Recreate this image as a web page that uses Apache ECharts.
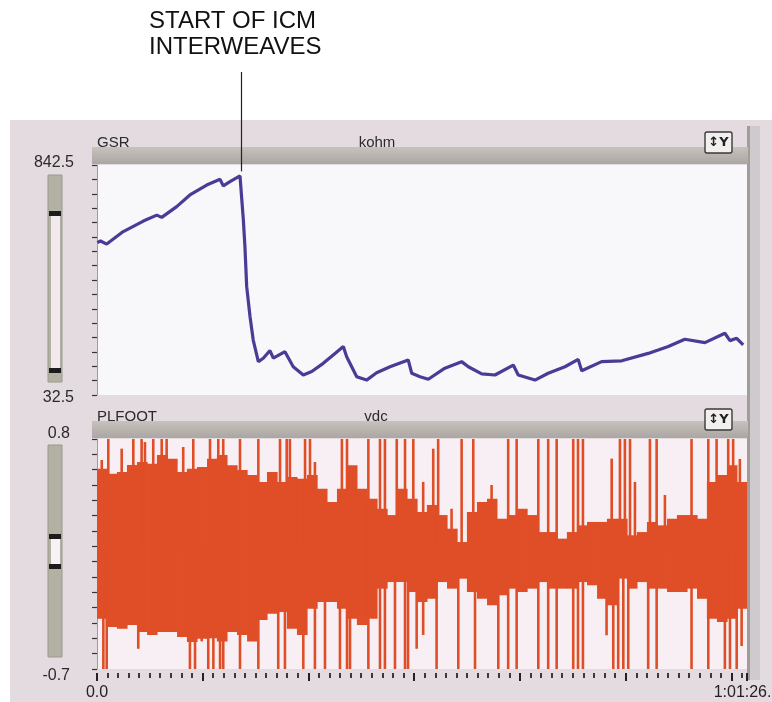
<!DOCTYPE html>
<html><head><meta charset="utf-8">
<script src="https://cdn.jsdelivr.net/npm/echarts@6/dist/echarts.min.js"></script>
<style>html,body{margin:0;padding:0;background:#fff}#c{width:772px;height:702px}</style>
</head><body><div id="c"></div>
<script>
// ---------------- DATA ----------------
const timeRange = [0, 3686.5];                 // seconds, 0.0 .. 1:01:26.5
const timeLabels = ['0.0', '1:01:26.5'];
const timeMajorStep = 600;                     // 10 min
const timeMinorStep = 60;                      // 1 min
const gsrRange = [32.5, 842.5];
const gsrTickLabels = ['32.5', '842.5'];
const footRange = [-0.7, 0.8];
const footTickLabels = ['-0.7', '0.8'];
const channelNames = ['GSR', 'PLFOOT'];
const channelUnits = ['kohm', 'vdc'];
const annotationText = ['START OF ICM', 'INTERWEAVES'];
const annotationTime = 816;
const annotationValue = 806;

// GSR trace (kohm)
const gsrTime = [2, 20, 55, 149, 263, 339, 367, 452, 527, 622, 698, 716, 754, 811, 816, 830, 839, 849, 868, 886, 915, 943, 981, 1000, 1066, 1113, 1170, 1218, 1283, 1350, 1397, 1416, 1473, 1529, 1586, 1662, 1765, 1785, 1832, 1879, 1973, 2068, 2106, 2182, 2257, 2361, 2389, 2484, 2559, 2654, 2729, 2749, 2862, 2976, 3126, 3240, 3334, 3448, 3561, 3590, 3628, 3665];
const gsrValue = [569, 575, 564, 608, 645, 666, 658, 696, 737, 772, 792, 769, 784, 804, 806, 649, 555, 414, 308, 226, 150, 162, 189, 162, 185, 132, 103, 115, 144, 179, 203, 167, 97, 85, 111, 132, 156, 109, 97, 88, 127, 150, 132, 107, 103, 138, 103, 85, 109, 132, 158, 118, 150, 153, 179, 203, 229, 217, 250, 224, 232, 209];

// PLFOOT signal envelope (vdc): bin edges, body high / low per bin
const footBinEdge = [0, 57, 113, 170, 227, 284, 340, 397, 454, 510, 567, 624, 680, 737, 794, 851, 907, 964, 1021, 1077, 1134, 1191, 1248, 1304, 1361, 1418, 1474, 1531, 1588, 1645, 1701, 1758, 1815, 1871, 1928, 1985, 2042, 2098, 2155, 2212, 2268, 2325, 2382, 2439, 2495, 2552, 2609, 2665, 2722, 2779, 2836, 2892, 2949, 3006, 3062, 3119, 3176, 3233, 3289, 3346, 3403, 3459, 3516, 3573, 3629, 3686.5];
const footHigh = [0.606, 0.574, 0.585, 0.630, 0.650, 0.639, 0.696, 0.672, 0.585, 0.606,
  0.617, 0.672, 0.696, 0.628, 0.598, 0.565, 0.520, 0.585, 0.520, 0.552,
  0.541, 0.565, 0.476, 0.389, 0.476, 0.628, 0.476, 0.411, 0.345, 0.304,
  0.476, 0.411, 0.324, 0.370, 0.304, 0.215, 0.128, 0.324, 0.389, 0.411,
  0.280, 0.304, 0.345, 0.304, 0.193, 0.193, 0.150, 0.193, 0.237, 0.259,
  0.259, 0.280, 0.280, 0.172, 0.193, 0.259, 0.237, 0.280, 0.304, 0.304,
  0.280, 0.520, 0.565, 0.628, 0.520];
const footLow = [-0.372, -0.426, -0.437, -0.413, -0.459, -0.478, -0.459, -0.459, -0.491, -0.524,
  -0.502, -0.500, -0.520, -0.459, -0.478, -0.520, -0.380, -0.339, -0.328, -0.437,
  -0.478, -0.307, -0.263, -0.263, -0.307, -0.372, -0.413, -0.372, -0.176, -0.133,
  -0.133, -0.198, -0.263, -0.242, -0.133, -0.176, -0.111, -0.198, -0.242, -0.285,
  -0.219, -0.176, -0.198, -0.176, -0.133, -0.176, -0.176, -0.176, -0.133, -0.154,
  -0.242, -0.285, -0.111, -0.176, -0.133, -0.176, -0.176, -0.198, -0.198, -0.176,
  -0.242, -0.372, -0.394, -0.372, -0.307];

// PLFOOT spikes (vdc)
const spikeTime = [27, 36, 55, 64, 140, 206, 234, 253, 272, 319, 367, 395, 489, 527, 546, 556, 594, 631, 641, 660, 688, 698, 716, 811, 915, 1028, 1038, 1066, 1076, 1094, 1170, 1180, 1208, 1236, 1293, 1378, 1389, 1418, 1435, 1539, 1605, 1633, 1690, 1700, 1747, 1764, 1794, 1813, 1850, 1907, 1926, 1935, 2011, 2049, 2068, 2134, 2144, 2238, 2276, 2332, 2380, 2503, 2559, 2607, 2701, 2728, 2756, 2890, 2919, 2928, 2956, 2966, 2985, 2994, 3013, 3023, 3051, 3126, 3136, 3174, 3221, 3372, 3467, 3514, 3561, 3580, 3590, 3608, 3628, 3646, 3656];
const spikeHigh = [0.663, 0.1, 0.1, 0.8, 0.737, 0.8, 0.1, 0.8, 0.78, 0.8, 0.8, 0.8, 0.748, 0.1, 0.8, 0.1, 0.1, 0.1, 0.8, 0.1, 0.8, 0.1, 0.8, 0.8, 0.8, 0.1, 0.8, 0.1, 0.8, 0.8, 0.1, 0.8, 0.8, 0.65, 0.1, 0.1, 0.8, 0.8, 0.1, 0.8, 0.8, 0.8, 0.1, 0.8, 0.8, 0.1, 0.8, 0.1, 0.52, 0.737, 0.1, 0.8, 0.345, 0.1, 0.8, 0.8, 0.1, 0.5, 0.1, 0.8, 0.8, 0.8, 0.8, 0.8, 0.8, 0.8, 0.8, 0.1, 0.672, 0.1, 0.1, 0.8, 0.1, 0.8, 0.1, 0.8, 0.52, 0.1, 0.8, 0.8, 0.435, 0.8, 0.8, 0.8, 0.1, 0.8, 0.1, 0.8, 0.1, 0.67, 0.1];
const spikeLow = [0.1, -0.7, -0.7, 0.1, 0.1, 0.1, -0.568, 0.1, 0.1, 0.1, 0.1, 0.1, 0.1, -0.7, 0.1, -0.7, -0.52, -0.7, 0.1, -0.7, 0.1, -0.7, -0.7, -0.7, -0.7, -0.7, 0.1, -0.7, 0.1, 0.1, -0.7, 0.1, 0.1, -0.7, -0.7, -0.7, 0.1, -0.7, -0.7, -0.7, -0.7, -0.7, -0.7, 0.1, -0.7, -0.7, 0.1, -0.568, -0.478, 0.1, -0.7, 0.1, 0.1, -0.7, 0.1, 0.1, -0.7, 0.1, -0.7, -0.7, -0.7, -0.7, -0.7, -0.7, -0.7, -0.7, -0.7, -0.48, 0.1, -0.7, -0.7, 0.1, -0.7, 0.1, -0.7, 0.1, 0.1, -0.7, 0.1, -0.7, 0.1, -0.7, -0.7, 0.1, -0.7, 0.1, -0.7, 0.1, -0.7, 0.1, -0.55];

// ---------------- CHART ----------------
const FONT = '"Liberation Sans", Arial, Helvetica, sans-serif';
const ORANGE = '#df4e27';
const chart = echarts.init(document.getElementById('c'), null, {renderer: 'canvas'});

const gsrData = gsrTime.map((t, i) => [t, gsrValue[i]]);
const bodyData = footHigh.map((h, i) => [footBinEdge[i], footBinEdge[i + 1], h, footLow[i]]);
const spikeData = spikeTime.map((t, i) => [t, spikeHigh[i], spikeLow[i]]);
const near = (a, b) => Math.abs(a - b) < 1e-6;

// time-axis tick positions (1-minute minor, 10-minute major, plus the end of the record)
const timeTicks = [];
for (let t = timeRange[0]; t < timeRange[1]; t += timeMinorStep) {
  timeTicks.push([t, t % timeMajorStep === 0 ? 1 : 0]);
}
timeTicks.push([timeRange[1], 1]);

const grids = [
  {left: 97, top: 165, width: 650, height: 230, outerBoundsMode: 'none', containLabel: false},
  {left: 97, top: 439, width: 650, height: 230, outerBoundsMode: 'none', containLabel: false}
];

function bandGraphics(id, y) {
  return [{
    type: 'rect', id: id, z: -5, shape: {x: 92, y: y, width: 656, height: 17},
    style: {fill: new echarts.graphic.LinearGradient(0, 0, 0, 1, [
      {offset: 0, color: '#c8c2be'}, {offset: 1, color: '#aca6a2'}])}
  }];
}
function button(id, y) {
  return [
    {type: 'rect', id: id + 'b', z: 5, shape: {x: 705, y: y, width: 27, height: 21, r: 2},
      style: {fill: '#f2f0ee', stroke: '#3a3a3a', lineWidth: 1.4}},
    {type: 'text', id: id + 't', z: 6, x: 718.5, y: y + 11,
      style: {text: '↕Y', font: 'bold 13px "DejaVu Sans", sans-serif', fill: '#222',
        align: 'center', verticalAlign: 'middle'}}
  ];
}
function slider(id, y0, y1, h1, h2, midFill) {
  return [
    {type: 'rect', id: id + 'o', z: -5, shape: {x: 48, y: y0, width: 14, height: y1 - y0},
      style: {fill: '#b3b0a4', stroke: '#9c998e', lineWidth: 1}},
    {type: 'rect', id: id + 'm', z: -4, shape: {x: 51, y: h1, width: 9, height: h2 - h1},
      style: {fill: midFill}},
    {type: 'rect', id: id + 'h1', z: -3, shape: {x: 49, y: h1 - 3, width: 12, height: 5},
      style: {fill: '#1c1c1c'}},
    {type: 'rect', id: id + 'h2', z: -3, shape: {x: 49, y: h2 - 2, width: 12, height: 5},
      style: {fill: '#1c1c1c'}}
  ];
}
function txt(id, x, y, text, align, size) {
  return {type: 'text', id: id, z: 5, x: x, y: y,
    style: {text: text, font: size + 'px ' + FONT, fill: '#2a2a2a', align: align, verticalAlign: 'middle'}};
}

const graphics = [
  {type: 'rect', id: 'panel', z: -20, shape: {x: 10, y: 120, width: 762, height: 582}, style: {fill: '#e4dbe0'}},
  {type: 'rect', id: 'bg1', z: -10, shape: {x: 97, y: 165, width: 650, height: 230}, style: {fill: '#f8f7f9'}},
  {type: 'rect', id: 'bg2', z: -10, shape: {x: 97, y: 439, width: 650, height: 230}, style: {fill: '#f7eff3'}},
  {type: 'rect', id: 'shadow', z: -9, shape: {x: 747, y: 126, width: 3, height: 554}, style: {fill: '#a29c9a'}},
  {type: 'rect', id: 'strip', z: -9, shape: {x: 750, y: 126, width: 10, height: 554}, style: {fill: '#cfcacb'}},
  ...bandGraphics('band1', 147),
  ...bandGraphics('band2', 421),
  txt('n1', 97, 143, channelNames[0], 'left', 15),
  txt('u1', 377, 143, channelUnits[0], 'center', 15),
  txt('n2', 97, 417, channelNames[1], 'left', 15),
  txt('u2', 376, 417, channelUnits[1], 'center', 15),
  ...button('btn1', 132),
  ...button('btn2', 409),
  ...slider('s1', 175, 382, 214, 370, '#f1e9ec'),
  ...slider('s2', 445, 657, 537, 566, '#f7f3f4'),
  {type: 'text', id: 'ann', z: 10, x: 149, y: 8,
    style: {text: annotationText.join('\n'), font: '24px ' + FONT, fill: '#111', lineHeight: 26,
      align: 'left', verticalAlign: 'top'}},
  {type: 'line', id: 'annLine', z: 10, shape: {x1: 0, y1: 72, x2: 0, y2: 170},
    style: {stroke: '#222', lineWidth: 1.2}}
];

const option = {
  animation: false,
  backgroundColor: '#ffffff',
  grid: grids,
  xAxis: [
    {gridIndex: 0, type: 'value', min: timeRange[0], max: timeRange[1], show: false, splitLine: {show: false}},
    {gridIndex: 1, type: 'value', position: 'bottom', offset: 4, min: timeRange[0], max: timeRange[1], interval: timeMajorStep,
      axisLine: {show: false}, splitLine: {show: false}, axisTick: {show: false},
      axisLabel: {show: true, interval: 0, showMinLabel: true, showMaxLabel: true, hideOverlap: false,
        margin: 12, color: '#222', fontSize: 16, fontFamily: FONT,
        formatter: v => near(v, timeRange[0]) ? timeLabels[0] : (near(v, timeRange[1]) ? timeLabels[1] : '')}}
  ],
  yAxis: [
    {gridIndex: 0, type: 'value', min: gsrRange[0], max: gsrRange[1], interval: 50.625, offset: 3,
      splitLine: {show: false},
      axisLine: {show: true, lineStyle: {color: '#a09a9c', width: 1}},
      axisTick: {show: true, interval: 0, length: 5, lineStyle: {color: '#333', width: 1.2}},
      axisLabel: {show: true, interval: 0, showMinLabel: true, showMaxLabel: true, hideOverlap: false, margin: 20,
        formatter: v => near(v, gsrRange[1]) ? '{a|' + gsrTickLabels[1] + '}' : (near(v, gsrRange[0]) ? '{b|' + gsrTickLabels[0] + '}' : ''),
        rich: {
          a: {fontSize: 16, fontFamily: FONT, color: '#2a2a2a', padding: [0, 0, 4, 0]},
          b: {fontSize: 16, fontFamily: FONT, color: '#2a2a2a', padding: [6, 0, 0, 0]}
        }}},
    {gridIndex: 1, type: 'value', min: footRange[0], max: footRange[1], interval: 0.1, offset: 3,
      splitLine: {show: false},
      axisLine: {show: true, lineStyle: {color: '#a09a9c', width: 1}},
      axisTick: {show: true, interval: 0, length: 5, lineStyle: {color: '#333', width: 1.2}},
      axisLabel: {show: true, interval: 0, showMinLabel: true, showMaxLabel: true, hideOverlap: false, margin: 24,
        formatter: v => near(v, footRange[1]) ? '{a|' + footTickLabels[1] + '}' : (near(v, footRange[0]) ? '{b|' + footTickLabels[0] + '}' : ''),
        rich: {
          a: {fontSize: 16, fontFamily: FONT, color: '#2a2a2a', padding: [0, 0, 10, 0]},
          b: {fontSize: 16, fontFamily: FONT, color: '#2a2a2a', padding: [14, 0, 0, 0]}
        }}}
  ],
  series: [
    {type: 'line', xAxisIndex: 0, yAxisIndex: 0, data: gsrData, showSymbol: false, symbol: 'none',
      lineStyle: {color: '#4a3b96', width: 3.2}, z: 5, clip: true},
    {type: 'custom', xAxisIndex: 1, yAxisIndex: 1, data: bodyData, clip: true, z: 3,
      encode: {x: [0, 1], y: [2, 3]},
      renderItem: (params, api) => {
        const p0 = api.coord([api.value(0), api.value(2)]);
        const p1 = api.coord([api.value(1), api.value(3)]);
        return {type: 'rect', shape: {x: p0[0], y: p0[1], width: p1[0] - p0[0] + 0.6, height: p1[1] - p0[1]},
          style: {fill: ORANGE}};
      }},
    {type: 'custom', xAxisIndex: 1, yAxisIndex: 1, data: spikeData, clip: true, z: 4,
      encode: {x: 0, y: [1, 2]},
      renderItem: (params, api) => {
        const p0 = api.coord([api.value(0), api.value(1)]);
        const p1 = api.coord([api.value(0), api.value(2)]);
        return {type: 'rect', shape: {x: p0[0] - 1.3, y: p0[1], width: 2.6, height: p1[1] - p0[1]},
          style: {fill: ORANGE}};
      }},
    // time-axis ticks drawn through the axis scale
    {type: 'custom', xAxisIndex: 1, yAxisIndex: 1, data: timeTicks, clip: false, z: 6, silent: true,
      encode: {x: 0},
      renderItem: (params, api) => {
        const p = api.coord([api.value(0), footRange[0]]);
        const x = Math.round(p[0]);
        const major = api.value(1) === 1;
        return {type: 'rect', shape: {x: x - 1, y: p[1] + 4, width: 2, height: major ? 8 : 5},
          style: {fill: major ? '#222' : '#3a3a3a'}};
      }}
  ],
  graphic: {elements: graphics}
};
chart.setOption(option);

const peak = chart.convertToPixel({xAxisIndex: 0, yAxisIndex: 0}, [annotationTime, annotationValue]);
chart.setOption({graphic: {elements: [
  {id: 'annLine', type: 'line', shape: {x1: Math.round(peak[0]) + 0.5, y1: 72, x2: Math.round(peak[0]) + 0.5, y2: peak[1] - 4}}
]}});
</script>
</body></html>
